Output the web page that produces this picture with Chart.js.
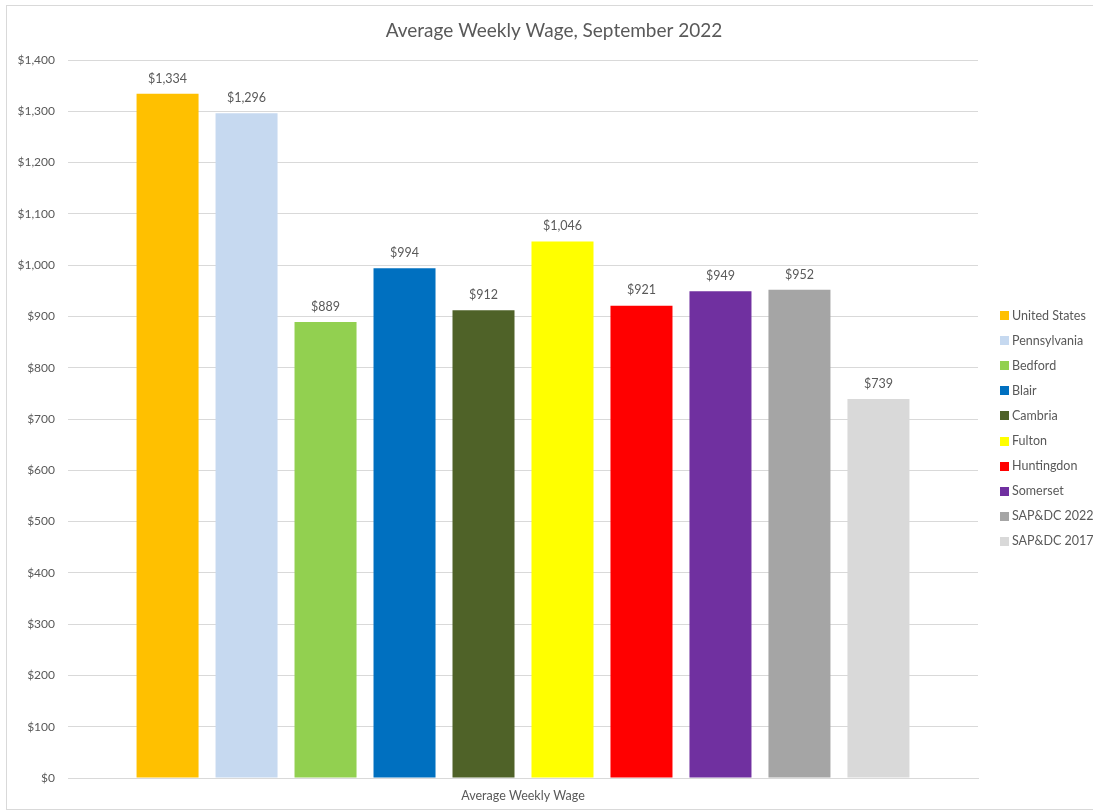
<!DOCTYPE html>
<html>
<head>
<meta charset="utf-8">
<title>Average Weekly Wage, September 2022</title>
<script src="https://cdn.jsdelivr.net/npm/chart.js@4.4.1/dist/chart.umd.min.js"></script>
<style>
    html, body { margin: 0; padding: 0; background: #ffffff; }
    #wrap { position: relative; width: 1093px; height: 811px; }
</style>
</head>
<body>
<div id="wrap"><canvas id="wageChart" width="1093" height="811"></canvas></div>
<script>
// Chart data
const categories = ['Average Weekly Wage'];
const areas = ['United States', 'Pennsylvania', 'Bedford', 'Blair', 'Cambria', 'Fulton', 'Huntingdon', 'Somerset', 'SAP&DC 2022', 'SAP&DC 2017'];
const wages = [1334, 1296, 889, 994, 912, 1046, 921, 949, 952, 739];
const barColors = ['#FFC000', '#C6D9F0', '#92D050', '#0070C0', '#4F6228', '#FFFF00', '#FF0000', '#7030A0', '#A5A5A5', '#D9D9D9'];
const yTicks = [0, 100, 200, 300, 400, 500, 600, 700, 800, 900, 1000, 1100, 1200, 1300, 1400];

const FONT = 'Lato, "Open Sans", sans-serif';
const TEXT = '#595959';

function money(v) {
    return '$' + v.toLocaleString('en-US');
}

// Value labels above each bar
const barLabels = {
    id: 'barLabels',
    afterDatasetsDraw(chart) {
        const ctx = chart.ctx;
        ctx.save();
        ctx.font = '12.5px ' + FONT;
        ctx.fillStyle = TEXT;
        ctx.textAlign = 'center';
        ctx.textBaseline = 'bottom';
        chart.data.datasets.forEach((ds, i) => {
            chart.getDatasetMeta(i).data.forEach((bar, j) => {
                ctx.fillText(money(ds.data[j]), bar.x, bar.y - 9);
            });
        });
        ctx.restore();
    }
};

// Legend on the right: small square swatch, label close beside it
const sideLegend = {
    id: 'sideLegend',
    afterDraw(chart) {
        const ctx = chart.ctx;
        const area = chart.chartArea;
        const step = 25.1;
        const n = chart.data.datasets.length;
        const x = area.right + 22;
        let y = (area.top + area.bottom) / 2 + 9 - step * (n - 1) / 2;
        ctx.save();
        ctx.font = '12.5px ' + FONT;
        ctx.textBaseline = 'middle';
        ctx.textAlign = 'left';
        chart.data.datasets.forEach(ds => {
            ctx.fillStyle = ds.backgroundColor;
            ctx.fillRect(x, Math.round(y) - 4, 9, 9);
            ctx.fillStyle = TEXT;
            ctx.fillText(ds.label, x + 12, y + 0.5);
            y += step;
        });
        ctx.restore();
    }
};

// Thin frame round the whole chart
const chartFrame = {
    id: 'chartFrame',
    beforeDraw(chart) {
        const ctx = chart.ctx;
        ctx.save();
        ctx.strokeStyle = '#D9D9D9';
        ctx.lineWidth = 1;
        ctx.strokeRect(6.5, 5.5, chart.width + 10, chart.height - 7);
        ctx.restore();
    }
};

const datasets = areas.map((name, i) => ({
    label: name,
    data: [wages[i]],
    backgroundColor: barColors[i],
    borderWidth: 0
}));

new Chart(document.getElementById('wageChart'), {
    type: 'bar',
    data: {
        labels: categories,
        datasets: datasets
    },
    options: {
        responsive: false,
        animation: false,
        devicePixelRatio: 1,
        categoryPercentage: 0.868,
        barPercentage: 0.785,
        layout: {
            padding: { left: 15, right: 0, top: 0, bottom: 0 }
        },
        plugins: {
            title: {
                display: true,
                text: 'Average Weekly Wage, September 2022',
                color: TEXT,
                font: { family: FONT, size: 19, weight: 'normal' },
                padding: { top: 19, bottom: 18.2 }
            },
            legend: { display: false },
            tooltip: { enabled: false }
        },
        scales: {
            x: {
                grid: { display: false, drawTicks: false },
                border: { color: '#D9D9D9' },
                ticks: {
                    color: TEXT,
                    font: { family: FONT, size: 12.5 },
                    padding: 10
                },
                afterFit(scale) { scale.height = 33; }
            },
            y: {
                min: 0,
                max: 1400,
                afterBuildTicks(scale) {
                    scale.ticks = yTicks.map(v => ({ value: v }));
                },
                grid: { color: '#D9D9D9', drawTicks: false },
                border: { display: false },
                ticks: {
                    color: TEXT,
                    font: { family: FONT, size: 12 },
                    padding: 13,
                    callback: v => money(v)
                },
                afterFit(scale) { scale.width = 53; }
            },
            // empty right-hand axis, keeps room for the legend column
            legendSpace: {
                type: 'linear',
                position: 'right',
                grid: { display: false, drawTicks: false },
                border: { display: false },
                ticks: { display: false },
                afterFit(scale) { scale.width = 115; }
            }
        }
    },
    plugins: [chartFrame, barLabels, sideLegend]
});
</script>
</body>
</html>
